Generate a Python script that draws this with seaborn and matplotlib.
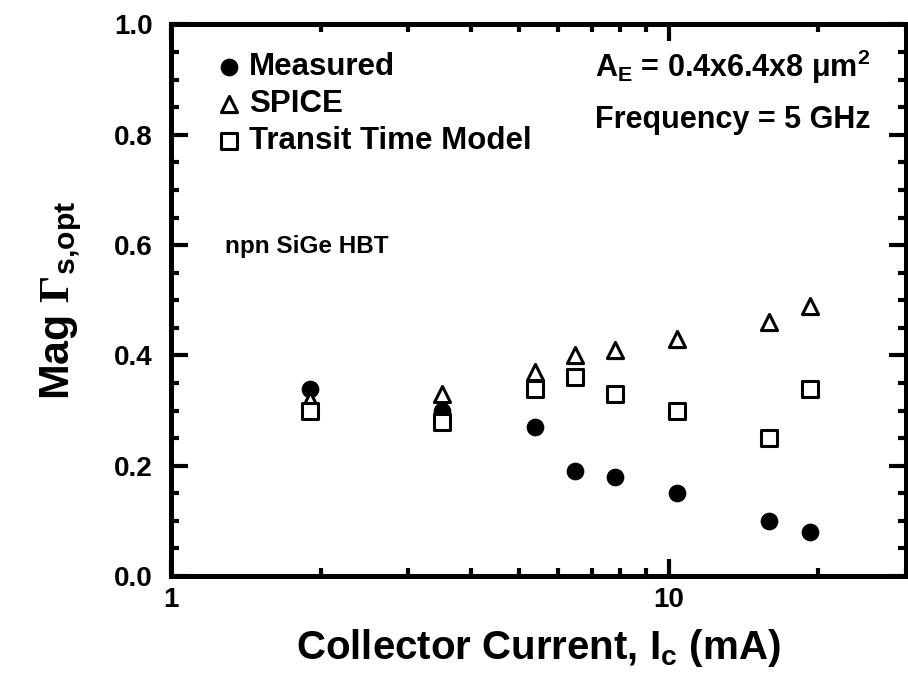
import matplotlib
matplotlib.use("Agg")
import matplotlib.pyplot as plt
import seaborn as sns
from matplotlib.ticker import FixedLocator, FixedFormatter, LogLocator, NullFormatter, MultipleLocator

# ---- data ----
current_mA = [1.9, 3.5, 5.4, 6.5, 7.8, 10.4, 15.9, 19.2]
measured = [0.34, 0.30, 0.27, 0.19, 0.18, 0.15, 0.10, 0.08]
spice = [0.32, 0.33, 0.37, 0.40, 0.41, 0.43, 0.46, 0.49]
transit = [0.30, 0.28, 0.34, 0.36, 0.33, 0.30, 0.25, 0.34]
series_labels = ["Measured", "SPICE", "Transit Time Model"]
x_ticks = [1, 10]
x_tick_labels = ["1", "10"]
y_ticks = [0.0, 0.2, 0.4, 0.6, 0.8, 1.0]
y_tick_labels = ["0.0", "0.2", "0.4", "0.6", "0.8", "1.0"]

sns.set_style("ticks")
plt.rcParams["font.family"] = ["Liberation Sans", "DejaVu Sans"]
plt.rcParams["font.weight"] = "bold"
plt.rcParams["text.color"] = "black"
plt.rcParams["axes.labelcolor"] = "black"
plt.rcParams["xtick.color"] = "black"
plt.rcParams["ytick.color"] = "black"
plt.rcParams["mathtext.fontset"] = "custom"
plt.rcParams["mathtext.rm"] = "Liberation Serif"
plt.rcParams["mathtext.it"] = "Liberation Sans:bold"
plt.rcParams["mathtext.bf"] = "Liberation Sans:bold"

fig = plt.figure(figsize=(9.08, 6.86), dpi=100)
ax = fig.add_axes([0.1883, 0.1603, 0.8095, 0.8040])

sns.scatterplot(x=current_mA, y=measured, marker="o", s=150, color="black",
                edgecolor="black", linewidth=0.5, label=series_labels[0], ax=ax, zorder=3)
sns.scatterplot(x=current_mA, y=spice, marker="^", s=135, facecolor="white",
                edgecolor="black", linewidth=2.2, label=series_labels[1], ax=ax, zorder=4)
sns.scatterplot(x=current_mA, y=transit, marker="s", s=121, facecolor="white",
                edgecolor="black", linewidth=2.2, label=series_labels[2], ax=ax, zorder=5)

ax.set_xscale("log")
ax.set_xlim(1, 30)
ax.set_ylim(0, 1.0)
ax.xaxis.set_major_locator(FixedLocator(x_ticks))
ax.xaxis.set_major_formatter(FixedFormatter(x_tick_labels))
ax.xaxis.set_minor_locator(LogLocator(base=10, subs=range(2, 10)))
ax.xaxis.set_minor_formatter(NullFormatter())
ax.yaxis.set_major_locator(FixedLocator(y_ticks))
ax.yaxis.set_major_formatter(FixedFormatter(y_tick_labels))
ax.yaxis.set_minor_locator(MultipleLocator(0.05))

ax.tick_params(which="both", direction="in", top=True, right=True, width=3, color="black")
ax.tick_params(which="major", length=12)
ax.tick_params(which="minor", length=6)
ax.tick_params(axis="x", which="major", pad=8, labelsize=20, labelcolor="black")
ax.tick_params(axis="y", which="major", pad=13, labelsize=20, labelcolor="black")
for lab in ax.get_xticklabels() + ax.get_yticklabels():
    lab.set_fontweight("bold")
for sp in ax.spines.values():
    sp.set_linewidth(3.6)
    sp.set_color("black")

ax.set_xlabel(r"Collector Current, I$_\mathbf{c}$ (mA)", fontsize=29, fontweight="bold",
              labelpad=10, color="black")
ax.set_ylabel(r"Mag $\Gamma_{\mathbf{s{,}opt}}$", fontsize=31, fontweight="bold",
              labelpad=22, color="black")

leg = ax.legend(loc="upper left", bbox_to_anchor=(0.0577, 0.950), frameon=False,
                fontsize=22.5, handlelength=1.0, handletextpad=0.15, borderpad=0,
                borderaxespad=0, labelspacing=0.22, scatterpoints=1)
for t in leg.get_texts():
    t.set_fontweight("bold")
    t.set_color("black")

ax.text(0.577, 0.905, r"A$_\mathbf{E}$ = 0.4x6.4x8 μm$^\mathbf{2}$", transform=ax.transAxes,
        fontsize=22, fontweight="bold", va="baseline", ha="left", color="black")
ax.text(0.577, 0.812, "Frequency = 5 GHz", transform=ax.transAxes,
        fontsize=22, fontweight="bold", va="baseline", ha="left", color="black")
ax.text(0.0735, 0.5857, "npn SiGe HBT", transform=ax.transAxes,
        fontsize=17.5, fontweight="bold", va="baseline", ha="left", color="black")

fig.savefig("out.png", dpi=100)
